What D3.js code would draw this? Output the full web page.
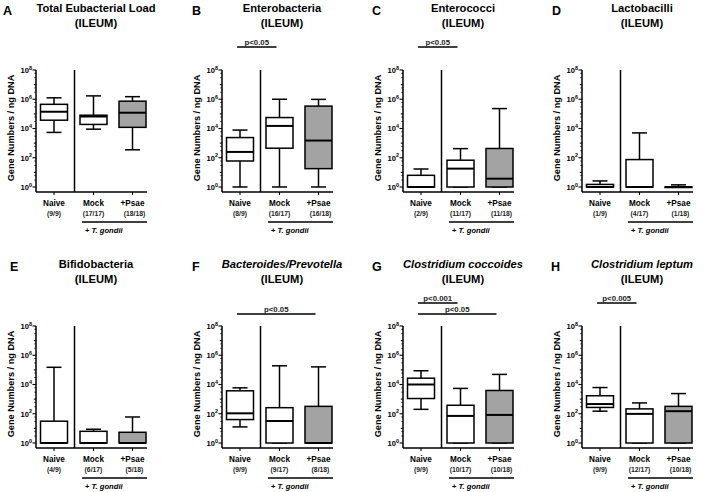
<!DOCTYPE html>
<html><head><meta charset="utf-8">
<script src="https://cdn.jsdelivr.net/npm/d3@7"></script>
<style>body{margin:0;background:#fff;font-family:"Liberation Sans",Arial,sans-serif;}</style>
</head><body><svg id="c" width="713" height="492"></svg>
<script>
// ---- data ----
const panelLetters = ["A","B","C","D","E","F","G","H"];
const panelTitles = ["Total Eubacterial Load","Enterobacteria","Enterococci","Lactobacilli","Bifidobacteria","Bacteroides/Prevotella","Clostridium coccoides","Clostridium leptum"];
const titleItalic = [false,false,false,false,false,true,true,true];
const groups = ["Naive","Mock","+Psae"];
// counts per panel: Naive, Mock, +Psae
const counts = [
  ["(9/9)","(17/17)","(18/18)"],
  ["(8/9)","(16/17)","(16/18)"],
  ["(2/9)","(11/17)","(11/18)"],
  ["(1/9)","(4/17)","(1/18)"],
  ["(4/9)","(6/17)","(5/18)"],
  ["(9/9)","(9/17)","(8/18)"],
  ["(9/9)","(10/17)","(10/18)"],
  ["(9/9)","(12/17)","(10/18)"]
];
// box stats [whiskerLow, q1, median, q3, whiskerHigh] (gene numbers / ng DNA)
const naiveStats = [
  [5.4e3, 3.7e4, 1.4e5, 4.5e5, 1.25e6],
  [1, 60, 250, 2.4e3, 7.8e3],
  [1, 1, 1, 6.3, 17],
  [1, 1, 1, 1.5, 2.6],
  [1, 1, 1, 31, 1.5e5],
  [12.6, 40, 107, 3.7e3, 5.9e3],
  [2.0e2, 1.1e3, 1.0e4, 2.7e4, 8.7e4],
  [1.5e2, 2.7e2, 4.6e2, 1.7e3, 6.2e3]
];
const mockStats = [
  [9e3, 1.9e4, 6.6e4, 8.1e4, 1.7e6],
  [1, 450, 1.5e4, 5.6e4, 1.0e6],
  [1, 1, 18, 68, 4.2e2],
  [1, 1, 1, 75, 5e3],
  [1, 1, 1, 6.3, 8.7],
  [1, 1, 32, 2.6e2, 1.9e5],
  [1, 1, 71, 3.8e2, 5.4e3],
  [1, 1, 98, 2.15e2, 5.5e2]
];
const psaeStats = [
  [3.5e2, 1.2e4, 1.2e5, 7.4e5, 1.5e6],
  [1, 18, 1.5e3, 3.4e5, 9.8e5],
  [1, 1, 3.7, 4.3e2, 2.3e5],
  [1, 1, 1, 1, 1.4],
  [1, 1, 1, 5.4, 60],
  [1, 1, 1, 3.2e2, 1.6e5],
  [1, 1, 83, 3.9e3, 4.9e4],
  [1, 1, 1.5e2, 3.2e2, 2.4e3]
];
// significance bars
const sigPanel = [1, 2, 5, 6, 6, 7];
const sigTo = ["Mock","Mock","+Psae","Mock","+Psae","Mock"];
const sigLevel = [0, 0, 1, 0, 1, 0];
const sigLabel = ["p<0.05","p<0.05","p<0.05","p<0.001","p<0.05","p<0.005"];
const yTickExps = [0, 2, 4, 6, 8];
const infectionLabel = "T. gondii";

// ---- layout ----
const svg = d3.select("#c");
const colX = [36, 222, 403, 582];
const rowOff = [0, 256];
const letterX = [3, 192, 372, 552, 10, 192, 372, 551];
const fills = ["#ffffff", "#ffffff", "#a3a3a3"];
const allStats = [naiveStats, mockStats, psaeStats];
const SW = 1.5;

for (let p = 0; p < 8; p++) {
  const x0 = colX[p % 4], r = rowOff[Math.floor(p / 4)];
  const g = svg.append("g");
  const y = d3.scaleLog().domain([1, 1e8]).range([187 + r, 70 + r]);
  const x = d3.scaleOrdinal().domain(groups).range([x0 + 18, x0 + 57.5, x0 + 96.5]);
  const axisBottom = 192 + r;

  // title
  g.append("text").attr("x", letterX[p]).attr("y", 15 + r)
    .attr("font-size", 12.5).attr("font-weight", "bold").text(panelLetters[p]);
  g.append("text").attr("x", x0 + 60).attr("y", 12 + r).attr("text-anchor", "middle")
    .attr("font-size", 11.2).attr("font-weight", "bold")
    .attr("font-style", titleItalic[p] ? "italic" : "normal").text(panelTitles[p]);
  g.append("text").attr("x", x0 + 60).attr("y", 26.5 + r).attr("text-anchor", "middle")
    .attr("font-size", 11.2).attr("font-weight", "bold").text("(ILEUM)");

  // y axis
  const ax = g.append("g").attr("transform", `translate(${x0},0)`)
    .call(d3.axisLeft(y).tickValues(d3.range(0, 9).map(e => Math.pow(10, e)))
      .tickSize(0).tickFormat(""));
  ax.select(".domain").remove();
  g.append("line").attr("x1", x0).attr("x2", x0).attr("y1", y(1e8)).attr("y2", axisBottom)
    .attr("stroke", "#000").attr("stroke-width", SW);
  for (let e = 0; e <= 8; e++) {
    const len = e % 2 === 0 ? 3.5 : 2.2;
    g.append("line").attr("x1", x0 - len).attr("x2", x0).attr("y1", y(Math.pow(10, e))).attr("y2", y(Math.pow(10, e)))
      .attr("stroke", "#000").attr("stroke-width", 1.1);
    if (e < 8) {
      [3, 6].forEach(m => {
        const yy = y(m * Math.pow(10, e));
        g.append("line").attr("x1", x0 - 1.6).attr("x2", x0).attr("y1", yy).attr("y2", yy)
          .attr("stroke", "#000").attr("stroke-width", 0.9);
      });
    }
  }
  yTickExps.forEach(e => {
    const t = g.append("text").attr("x", x0 - 4).attr("y", y(Math.pow(10, e)) + 2.8)
      .attr("text-anchor", "end").attr("font-size", 7.6).attr("font-weight", "bold");
    t.append("tspan").text("10");
    t.append("tspan").attr("dy", -3.2).attr("font-size", 5.4).text(e);
  });
  g.append("text").attr("transform", `translate(${x0 - 22},${128 + r}) rotate(-90)`)
    .attr("text-anchor", "middle").attr("font-size", 9.2).attr("font-weight", "bold")
    .text("Gene Numbers / ng DNA");

  // x axis
  g.append("line").attr("x1", x0).attr("x2", x0 + 111).attr("y1", axisBottom).attr("y2", axisBottom)
    .attr("stroke", "#000").attr("stroke-width", SW);
  groups.forEach((gr, i) => {
    g.append("line").attr("x1", x(gr)).attr("x2", x(gr)).attr("y1", axisBottom).attr("y2", axisBottom + 3)
      .attr("stroke", "#000").attr("stroke-width", 1.1);
    g.append("text").attr("x", x(gr)).attr("y", 205.5 + r).attr("text-anchor", "middle")
      .attr("font-size", 8.2).attr("font-weight", "bold").text(gr);
    g.append("text").attr("x", x(gr) + (i === 2 ? 2 : 0)).attr("y", 215.5 + r).attr("text-anchor", "middle")
      .attr("font-size", 6.8).attr("font-weight", "bold").attr("fill", "#222").text(counts[p][i]);
  });
  // separator
  g.append("line").attr("x1", x0 + 38.5).attr("x2", x0 + 38.5).attr("y1", y(1e8)).attr("y2", axisBottom)
    .attr("stroke", "#000").attr("stroke-width", SW);
  // infection underline
  g.append("line").attr("x1", x0 + 46).attr("x2", x0 + 111).attr("y1", 222 + r).attr("y2", 222 + r)
    .attr("stroke", "#000").attr("stroke-width", 1.3);
  const it = g.append("text").attr("x", x0 + 49).attr("y", 233 + r)
    .attr("font-size", 7.6).attr("font-weight", "bold");
  it.append("tspan").text("+ ");
  it.append("tspan").attr("font-style", "italic").text(infectionLabel);

  // boxes
  const bw = 27, cw = 15;
  groups.forEach((gr, i) => {
    const s = allStats[i][p];
    const cx = x(gr);
    g.append("line").attr("x1", cx).attr("x2", cx).attr("y1", y(s[3])).attr("y2", y(s[4]))
      .attr("stroke", "#000").attr("stroke-width", SW);
    g.append("line").attr("x1", cx).attr("x2", cx).attr("y1", y(s[1])).attr("y2", y(s[0]))
      .attr("stroke", "#000").attr("stroke-width", SW);
    g.append("line").attr("x1", cx - cw / 2).attr("x2", cx + cw / 2).attr("y1", y(s[4])).attr("y2", y(s[4]))
      .attr("stroke", "#000").attr("stroke-width", SW);
    g.append("line").attr("x1", cx - cw / 2).attr("x2", cx + cw / 2).attr("y1", y(s[0])).attr("y2", y(s[0]))
      .attr("stroke", "#000").attr("stroke-width", SW);
    g.append("rect").attr("x", cx - bw / 2).attr("width", bw)
      .attr("y", y(s[3])).attr("height", Math.max(0.5, y(s[1]) - y(s[3])))
      .attr("fill", fills[i]).attr("stroke", "#000").attr("stroke-width", SW);
    g.append("line").attr("x1", cx - bw / 2).attr("x2", cx + bw / 2).attr("y1", y(s[2])).attr("y2", y(s[2]))
      .attr("stroke", "#000").attr("stroke-width", 2);
  });
}

// significance bars
sigPanel.forEach((p, k) => {
  const x0 = colX[p % 4], r = rowOff[Math.floor(p / 4)];
  const x = d3.scaleOrdinal().domain(groups).range([x0 + 18, x0 + 57.5, x0 + 96.5]);
  const x1 = x0 + 15, x2 = x(sigTo[k]) - 3;
  const yy = 47 + r + sigLevel[k] * 11;
  svg.append("line").attr("x1", x1).attr("x2", x2).attr("y1", yy).attr("y2", yy)
    .attr("stroke", "#000").attr("stroke-width", 1.3);
  svg.append("text").attr("x", (x1 + x2) / 2).attr("y", yy - 2.5).attr("text-anchor", "middle")
    .attr("font-size", 7.8).attr("font-weight", "bold").attr("fill", "#222").text(sigLabel[k]);
});
</script></body></html>
